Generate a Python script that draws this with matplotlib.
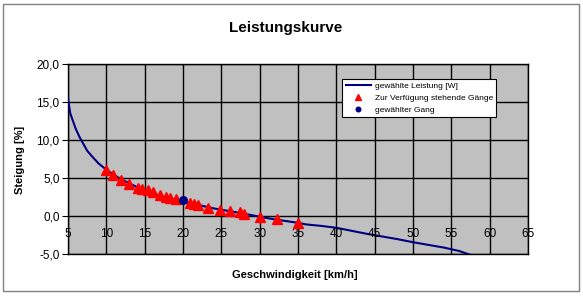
import matplotlib
matplotlib.use("Agg")
import matplotlib.pyplot as plt
from matplotlib.patches import Rectangle

plt.rcParams['font.family'] = ['Liberation Sans', 'DejaVu Sans']

# Leistungskurve (Geschwindigkeit km/h -> Steigung %)
curve_x = [5, 5.3, 6, 6.5, 7, 7.5, 8, 9, 10, 11, 12, 13, 14, 15, 16, 17, 18, 19, 20,
           22, 24, 26, 28, 30, 32, 34, 35, 36, 38, 40, 42, 44, 46, 48, 50, 52, 54, 56, 58]
curve_y = [15.5, 13.5, 11.5, 10.4, 9.5, 8.6, 8.0, 6.9, 6.1, 5.4, 4.8, 4.3, 3.8, 3.4, 3.0,
           2.65, 2.35, 2.1, 1.85, 1.45, 1.0, 0.65, 0.3, -0.1, -0.45, -0.75, -0.9, -1.1,
           -1.3, -1.55, -1.95, -2.35, -2.7, -3.05, -3.45, -3.8, -4.15, -4.6, -5.3]

# verfuegbare Gaenge
gear_x = [10.0, 10.9, 11.9, 13.0, 14.1, 14.6, 15.4, 16.1, 17.0, 17.8, 18.3, 19.1,
          20.9, 21.5, 22.0, 23.3, 24.8, 26.1, 27.4, 28.0, 30.0, 32.3, 35.0]
gear_y = [6.0, 5.4, 4.8, 4.2, 3.7, 3.55, 3.4, 3.1, 2.8, 2.5, 2.35, 2.2,
          1.75, 1.6, 1.5, 1.1, 0.8, 0.6, 0.5, 0.3, -0.13, -0.43, -0.87]

# gewaehlter Gang
sel_x = [20.0]
sel_y = [2.15]

x_ticks = list(range(5, 70, 5))
y_ticks = [-5, 0, 5, 10, 15, 20]
y_labels = ["-5,0", "0,0", "5,0", "10,0", "15,0", "20,0"]

fig = plt.figure(figsize=(5.83, 2.96), dpi=100)
fig.set_facecolor('white')
fig.patches.append(Rectangle((0.006, 0.018), 0.987, 0.97, transform=fig.transFigure,
                             fill=False, edgecolor='#808080', linewidth=1))

ax = fig.add_axes([0.1166, 0.1419, 0.7891, 0.6419])
ax.set_facecolor('#C0C0C0')

ax.plot(curve_x, curve_y, color='#000080', linewidth=1.5, label='gewählte Leistung [W]', zorder=3)
ax.plot(gear_x, gear_y, linestyle='none', marker='^', color='#FF0000', markersize=6.5,
        label='Zur Verfügung stehende Gänge', zorder=4)
ax.plot(sel_x, sel_y, linestyle='none', marker='o', color='#000080', markersize=5.5,
        label='gewählter Gang', zorder=5)

ax.set_xlim(5, 65)
ax.set_ylim(-5, 20)
ax.set_xticks(x_ticks)
ax.set_yticks(y_ticks)
ax.set_yticklabels(y_labels, fontsize=8.5)
ax.grid(True, color='black', linewidth=1)
ax.set_axisbelow(True)
for s in ax.spines.values():
    s.set_color('black')
    s.set_linewidth(1)

# x-Achse schneidet bei 0
ax.set_xticklabels([])
ax.tick_params(axis='x', length=0)
ax.tick_params(axis='y', length=4, direction='out', pad=2)
for xv in x_ticks:
    ax.annotate(str(xv), (xv, 0), xytext=(0, -9), textcoords='offset points',
                ha='center', va='top', fontsize=8.5)

fig.text(0.49, 0.905, 'Leistungskurve', ha='center', va='center', fontsize=11, fontweight='bold')
fig.text(0.505, 0.07, 'Geschwindigkeit [km/h]', ha='center', va='center', fontsize=8, fontweight='bold')
fig.text(0.035, 0.46, 'Steigung [%]', ha='center', va='center', rotation=90, fontsize=8, fontweight='bold')

leg = ax.legend(loc='upper left', bbox_to_anchor=(0.587, 0.945), fontsize=6, frameon=True,
                fancybox=False, edgecolor='black', framealpha=1, borderpad=0.4,
                handlelength=3, labelspacing=0.5, handletextpad=0.5, markerscale=0.6)
leg.get_frame().set_linewidth(0.8)

fig.savefig('out.png', dpi=100)
